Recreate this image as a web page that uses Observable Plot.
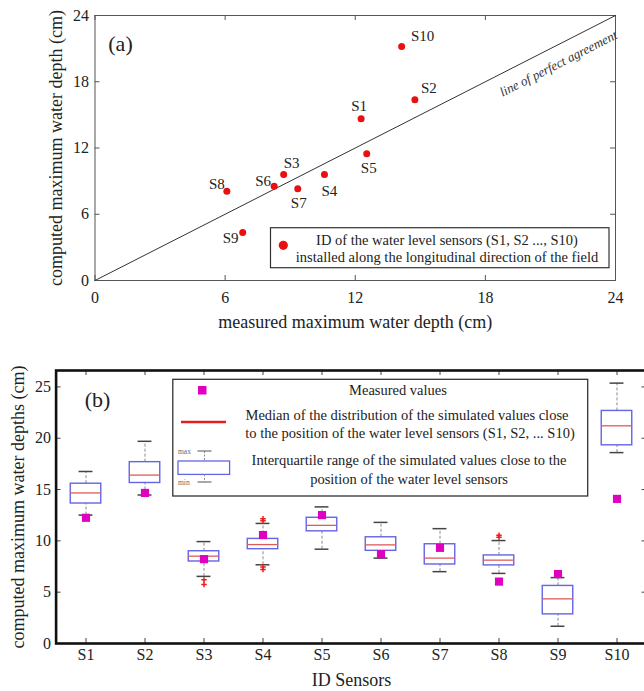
<!DOCTYPE html>
<html>
<head>
<meta charset="utf-8">
<script src="https://cdn.jsdelivr.net/npm/d3@7"></script>
<script src="https://cdn.jsdelivr.net/npm/@observablehq/plot@0.6"></script>
<style>
  html, body { margin: 0; padding: 0; background: #fff; overflow: hidden; width: 644px; height: 691px; }
  #wrap { position: relative; width: 644px; height: 691px; overflow: hidden; }
  .panel { position: absolute; left: 0; }
  svg { max-width: none !important; }
  #overlay { position: absolute; left: 0; top: 0; pointer-events: none; }
  #overlay text { font-family: "Liberation Serif", "Times New Roman", serif; fill: #222; }
</style>
</head>
<body>
<div id="wrap">
  <div id="panelA" class="panel" style="top:0px"></div>
  <div id="panelB" class="panel" style="top:340px"></div>
  <svg id="overlay" width="644" height="691"></svg>
</div>
<script>
// ---------------- DATA ----------------
const sensors = ["S1", "S2", "S3", "S4", "S5", "S6", "S7", "S8", "S9", "S10"];

// panel (a): measured vs computed maximum water depth (cm)
const measuredA = [12.27, 14.75, 8.70, 10.58, 12.53, 8.26, 9.35, 6.08, 6.81, 14.14];
const computedA = [14.65, 16.37, 9.60, 9.60, 11.48, 8.54, 8.31, 8.09, 4.35, 21.20];
const agreement = [0, 24];
const agreementLabelAt = 21;
const ticksA = [0, 6, 12, 18, 24];

// panel (b): distribution of simulated values per sensor (cm)
const whiskerLow  = [12.51, 14.47, 6.54, 7.67, 9.19, 8.32, 7.00, 6.83, 1.68, 18.60];
const quart1      = [13.64, 15.64, 7.99, 9.19, 10.93, 9.03, 7.70, 7.61, 2.84, 19.31];
const medianB     = [14.67, 16.41, 8.51, 9.64, 11.51, 9.61, 8.32, 8.12, 4.35, 21.21];
const quart3      = [15.57, 17.67, 8.99, 10.19, 12.25, 10.35, 9.67, 8.58, 5.61, 22.66];
const whiskerHigh = [16.76, 19.70, 9.93, 11.70, 13.31, 11.80, 11.19, 10.03, 6.42, 25.37];
const measuredB   = [12.25, 14.67, 8.22, 10.57, 12.51, 8.70, 9.32, 6.03, 6.77, 14.09];
const outlierSensor = ["S3", "S3", "S4", "S4", "S4", "S4", "S8", "S8"];
const outlierValue  = [6.20, 5.75, 12.15, 11.95, 7.45, 7.20, 10.35, 10.55];
const ticksB = [0, 5, 10, 15, 20, 25];

// ---------------- STYLE / LAYOUT ----------------
const serif = '"Liberation Serif", "Times New Roman", serif';
const labelOffsets = {
  S1: [-2, -13], S2: [14, -12], S3: [8, -11], S4: [5, 17], S5: [2, 14],
  S6: [-11, -5], S7: [1, 14], S8: [-10, -7], S9: [-12, 6], S10: [21, -10]
};

// ---------------- PANEL (a) ----------------
const A = { width: 644, height: 340, ml: 94.5, mr: 29, mt: 15, mb: 60 };
const innerWA = A.width - A.ml - A.mr;
const innerHA = A.height - A.mt - A.mb;
const rowsA = sensors.map((s, i) => ({ id: s, x: measuredA[i], y: computedA[i] }));
const tickLen = 5;
const tickColA = "#555";

const plotA = Plot.plot({
  width: A.width, height: A.height,
  marginLeft: A.ml, marginRight: A.mr, marginTop: A.mt, marginBottom: A.mb,
  style: { fontFamily: serif, fontSize: "16px", color: "#222", background: "white" },
  x: { domain: [0, 24], label: null },
  y: { domain: [0, 24], label: null },
  marks: [
    Plot.frame({ stroke: "#555", strokeWidth: 1 }),
    Plot.tickX(ticksA, { x: d => d, insetTop: innerHA - tickLen, stroke: tickColA }),
    Plot.tickX(ticksA, { x: d => d, insetBottom: innerHA - tickLen, stroke: tickColA }),
    Plot.tickY(ticksA, { y: d => d, insetRight: innerWA - tickLen, stroke: tickColA }),
    Plot.tickY(ticksA, { y: d => d, insetLeft: innerWA - tickLen, stroke: tickColA }),
    Plot.axisX(ticksA, { anchor: "bottom", tickSize: 0, tickPadding: 11, label: null, fontSize: 16, fontFamily: serif }),
    Plot.axisY(ticksA, { anchor: "left", tickSize: 0, tickPadding: 6, label: null, fontSize: 16, fontFamily: serif }),
    Plot.line(agreement.map(v => ({ v })), { x: "v", y: "v", stroke: "#333", strokeWidth: 1 }),
    Plot.text([agreementLabelAt], {
      x: d => d, y: d => d, text: () => "line of perfect agreement",
      rotate: -27, dx: 8, dy: 15, fontStyle: "italic", fontSize: 13, fill: "#333",
      textAnchor: "middle", lineAnchor: "middle"
    }),
    Plot.dot(rowsA, { x: "x", y: "y", r: 3.5, fill: "#e81010", stroke: "none" }),
    ...sensors.map((s, i) => Plot.text([rowsA[i]], {
      x: "x", y: "y", text: "id", fontSize: 15, fill: "#222",
      textAnchor: "middle", lineAnchor: "middle",
      dx: labelOffsets[s][0], dy: labelOffsets[s][1]
    })),
    Plot.text(["(a)"], { frameAnchor: "top-left", dx: 25.5, dy: 28.5, text: d => d, fontSize: 22, fill: "#222", textAnchor: "middle", lineAnchor: "middle" }),
    Plot.text(["measured maximum water depth (cm)"], { frameAnchor: "bottom", dy: 42, text: d => d, fontSize: 18, fill: "#222", textAnchor: "middle", lineAnchor: "middle" }),
    Plot.text(["computed maximum water depth (cm)"], { frameAnchor: "left", dx: -39, rotate: -90, text: d => d, fontSize: 18, fill: "#222", textAnchor: "middle", lineAnchor: "middle" })
  ]
});
document.getElementById("panelA").appendChild(plotA);

// ---------------- PANEL (b) ----------------
const B = { width: 648, height: 351, ml: 55.6, mr: 1.5, mt: 30, mb: 48 };
const innerWB = B.width - B.ml - B.mr;
const innerHB = B.height - B.mt - B.mb;
const stepB = innerWB / sensors.length;
const boxHalf = 15.3, capHalf = 7;
const rowsB = sensors.map((s, i) => ({
  id: s, lo: whiskerLow[i], q1: quart1[i], med: medianB[i], q3: quart3[i], hi: whiskerHigh[i], m: measuredB[i]
}));
const outliers = outlierSensor.map((s, i) => ({ id: s, v: outlierValue[i] }));
const tickColB = "#444";

const plotB = Plot.plot({
  width: B.width, height: B.height,
  marginLeft: B.ml, marginRight: B.mr, marginTop: B.mt, marginBottom: B.mb,
  style: { fontFamily: serif, fontSize: "16px", color: "#222", background: "white" },
  x: { domain: sensors, padding: 0, label: null },
  y: { domain: [0, 26.6], label: null },
  marks: [
    Plot.tickX(sensors, { x: d => d, insetTop: innerHB - tickLen, stroke: tickColB }),
    Plot.tickX(sensors, { x: d => d, insetBottom: innerHB - tickLen, stroke: tickColB }),
    Plot.tickY(ticksB, { y: d => d, insetRight: innerWB - tickLen, stroke: tickColB }),
    Plot.tickY(ticksB, { y: d => d, insetLeft: innerWB - tickLen, stroke: tickColB }),
    Plot.axisX(sensors, { anchor: "bottom", tickSize: 0, tickPadding: 5, label: null, fontSize: 16, fontFamily: serif }),
    Plot.axisY(ticksB, { anchor: "left", tickSize: 0, tickPadding: 5, label: null, fontSize: 16, fontFamily: serif }),
    Plot.ruleX(rowsB, { x: "id", y1: "lo", y2: "q1", stroke: "#8a8a8a", strokeDasharray: "3,2" }),
    Plot.ruleX(rowsB, { x: "id", y1: "q3", y2: "hi", stroke: "#8a8a8a", strokeDasharray: "3,2" }),
    Plot.tickY(rowsB, { x: "id", y: "lo", insetLeft: stepB / 2 - capHalf, insetRight: stepB / 2 - capHalf, stroke: "#444", strokeWidth: 1.5 }),
    Plot.tickY(rowsB, { x: "id", y: "hi", insetLeft: stepB / 2 - capHalf, insetRight: stepB / 2 - capHalf, stroke: "#444", strokeWidth: 1.5 }),
    Plot.barY(rowsB, { x: "id", y1: "q1", y2: "q3", insetLeft: stepB / 2 - boxHalf, insetRight: stepB / 2 - boxHalf, fill: "white", stroke: "#6464e6", strokeWidth: 1.4 }),
    Plot.tickY(rowsB, { x: "id", y: "med", insetLeft: stepB / 2 - boxHalf, insetRight: stepB / 2 - boxHalf, stroke: "#e05a5a", strokeWidth: 1.3 }),
    Plot.dot(outliers, { x: "id", y: "v", symbol: "plus", r: 1.9, stroke: "#ee1c1c", strokeWidth: 1.5 }),
    Plot.dot(rowsB, { x: "id", y: "m", symbol: "square", r: 4.6, fill: "#e000c0", stroke: "none" }),
    Plot.frame({ stroke: "#111", strokeWidth: 2.6 }),
    Plot.text(["(b)"], { frameAnchor: "top-left", dx: 41.5, dy: 29, text: d => d, fontSize: 22, fill: "#222", textAnchor: "middle", lineAnchor: "middle" }),
    Plot.text(["ID Sensors"], { frameAnchor: "bottom", dy: 37, text: d => d, fontSize: 18, fill: "#222", textAnchor: "middle", lineAnchor: "middle" }),
    Plot.text(["computed maximum water depths (cm)"], { frameAnchor: "left", dx: -37.5, rotate: -90, text: d => d, fontSize: 18, fill: "#222", textAnchor: "middle", lineAnchor: "middle" })
  ]
});
document.getElementById("panelB").appendChild(plotB);

// ---------------- LEGENDS (overlay) ----------------
const ov = d3.select("#overlay");
// legend (a)
const la = ov.append("g");
la.append("rect").attr("x", 270.5).attr("y", 227.7).attr("width", 338.5).attr("height", 40)
  .attr("fill", "white").attr("stroke", "#333").attr("stroke-width", 1.2);
la.append("circle").attr("cx", 283.3).attr("cy", 245.3).attr("r", 4.6).attr("fill", "#e81010");
[["ID of the water level sensors (S1, S2 ..., S10)", 239.5],
 ["installed along the longitudinal direction of the field", 256.7]].forEach(([t, y]) => {
  la.append("text").attr("x", 447).attr("y", y).attr("text-anchor", "middle")
    .attr("dominant-baseline", "central").attr("font-size", 14.5).text(t);
});
// legend (b)
const lb = ov.append("g");
lb.append("rect").attr("x", 172.8).attr("y", 379.3).attr("width", 414.9).attr("height", 116.7)
  .attr("fill", "white").attr("stroke", "#333").attr("stroke-width", 1.3);
lb.append("rect").attr("x", 198).attr("y", 386).attr("width", 8.5).attr("height", 8.5).attr("fill", "#e000c0");
lb.append("line").attr("x1", 181).attr("x2", 226).attr("y1", 422).attr("y2", 422)
  .attr("stroke", "#e02020").attr("stroke-width", 2.6);
lb.append("rect").attr("x", 178).attr("y", 461).attr("width", 51.6).attr("height", 13.4)
  .attr("fill", "white").attr("stroke", "#6464e6").attr("stroke-width", 1.3);
[[451, 461], [474.4, 482]].forEach(([y1, y2]) => {
  lb.append("line").attr("x1", 204.5).attr("x2", 204.5).attr("y1", y1).attr("y2", y2)
    .attr("stroke", "#8a8a8a").attr("stroke-dasharray", "2,1.5");
});
[[451, "max"], [482, "min"]].forEach(([y, t]) => {
  lb.append("line").attr("x1", 197.5).attr("x2", 211.5).attr("y1", y).attr("y2", y)
    .attr("stroke", "#555").attr("stroke-width", 1);
  lb.append("text").attr("x", 178).attr("y", y).attr("dominant-baseline", "central")
    .attr("font-size", 7.5).style("fill", "#666").text(t);
});
[["Measured values", 398, 389.5],
 ["Median of the distribution of the simulated values close", 407, 415],
 ["to the position of the water level sensors (S1, S2, ... S10)", 410, 433],
 ["Interquartile range of the simulated values close to the", 409, 460],
 ["position of the water level sensors", 409, 478.5]].forEach(([t, x, y]) => {
  lb.append("text").attr("x", x).attr("y", y).attr("text-anchor", "middle")
    .attr("dominant-baseline", "central").attr("font-size", 14.5).text(t);
});
</script>
</body>
</html>
